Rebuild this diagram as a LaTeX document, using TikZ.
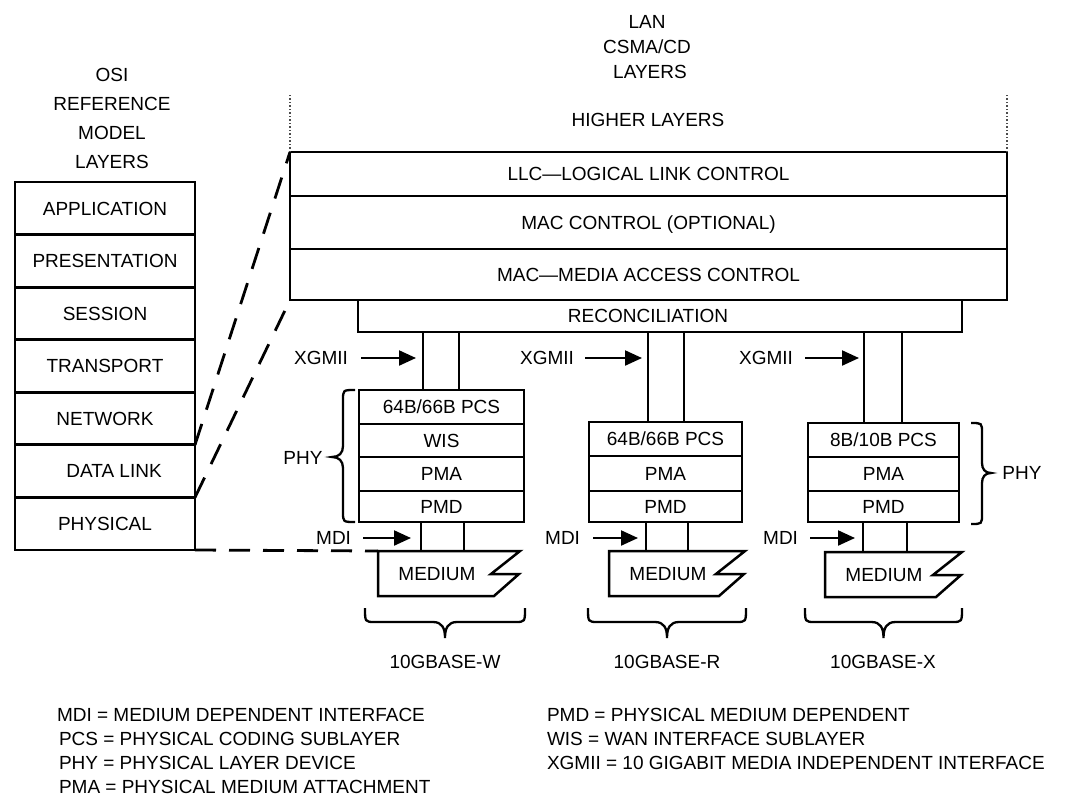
\documentclass[tikz,border=0pt]{standalone}
\usepackage{fontspec}
\setmainfont{Liberation Sans}
\usetikzlibrary{arrows.meta,calc}
\begin{document}
\begin{tikzpicture}[x=1pt,y=-1pt,
  lbl/.style={font=\fontsize{19}{22}\selectfont, inner sep=0pt, outer sep=0pt,
              text height=13.5pt, text depth=0pt},
  box/.style={lbl, draw, line width=2.9pt},
  medline/.style={line width=2.5pt, line join=miter},
  link/.style={line width=2.3pt},
  thinlink/.style={line width=1.6pt},
  arr/.style={line width=2.2pt, -{Triangle[length=17pt,width=15pt]}},
  bracel/.style={line width=2.3pt},
  dashl/.style={line width=2.8pt, dash pattern=on 22pt off 15pt},
  dotl/.style={line width=1.3pt, dash pattern=on 1.5pt off 2pt, black!70},
  pics/medium/.style={code={
    \coordinate (-nw) at (0,0);
    \draw[medline] (0,0) -- (#1,0) -- (#1-29,23) -- (#1-1,23) -- (#1-26,45) -- (0,45) -- cycle;
    \node[lbl] (-txt) at (59,23) {MEDIUM};
  }},
  pics/underbrace/.style={code={
    \draw[bracel] (0,0) .. controls (0,14) and (0,14) .. (10,14)
      -- (#1/2-12,14) .. controls (#1/2-3,14) and (#1/2,20) .. (#1/2,30)
      .. controls (#1/2,20) and (#1/2+3,14) .. (#1/2+12,14)
      -- (#1-10,14) .. controls (#1,14) and (#1,14) .. (#1,0);
  }}
]
\useasboundingbox (0,0) rectangle (1071,798);
\fill[white] (0,0) rectangle (1071,798);

% ---------- OSI reference model ----------
\node[lbl, align=center, text height=, text depth=, font=\fontsize{19}{29}\selectfont]
  (osititle) at (112,118) {OSI\\REFERENCE\\MODEL\\LAYERS};
\node[box, minimum width=180, minimum height=52.57] (osi1) at (105,208.29) {APPLICATION};
\node[box, minimum width=180, minimum height=52.57] (osi2) at (105,260.86) {PRESENTATION};
\node[box, minimum width=180, minimum height=52.57] (osi3) at (105,313.43) {SESSION};
\node[box, minimum width=180, minimum height=52.57] (osi4) at (105,366.00) {TRANSPORT};
\node[box, minimum width=180, minimum height=52.57] (osi5) at (105,418.57) {NETWORK};
\node[box, minimum width=180, minimum height=52.57] (osi6) at (105,471.14) {\hspace*{18pt}DATA LINK};
\node[box, minimum width=180, minimum height=52.57] (osi7) at (105,523.71) {PHYSICAL};

% ---------- LAN CSMA/CD layers ----------
\node[lbl, align=center, text height=, text depth=, font=\fontsize{19}{25}\selectfont]
  (lantitle) at (647,47) {LAN\\CSMA/CD\\\hspace*{6pt}LAYERS};
\node[lbl] (higher) at (648,120) {HIGHER LAYERS};
\node[box, minimum width=717, minimum height=44] (llc)  at (648.5,174)   {LLC—LOGICAL LINK CONTROL};
\node[box, minimum width=717, minimum height=53] (macc) at (648.5,222.5) {MAC CONTROL (OPTIONAL)};
\node[box, minimum width=717, minimum height=51] (mac)  at (648.5,274.5) {MAC—MEDIA ACCESS CONTROL};
\node[box, minimum width=604, minimum height=32] (rec)  at (660,316) {};
\node[lbl] (rectxt) at (648,316) {RECONCILIATION};

\draw[dotl] (llc.north west) -- ++(0,-57);
\draw[dotl] (llc.north east) -- ++(0,-57);

% OSI data link maps onto the LAN stack, physical onto the medium
\draw[dashl] (osi6.north east) -- (llc.north west);
\draw[dashl] (osi6.south east) -- (mac.south west);

% ---------- 10GBASE-W ----------
\node[box, minimum width=165, minimum height=34] (pcsW) at (441.5,407)   {64B/66B PCS};
\node[box, minimum width=165, minimum height=33] (wisW) at (441.5,440.5) {WIS};
\node[box, minimum width=165, minimum height=34] (pmaW) at (441.5,474)   {PMA};
\node[box, minimum width=165, minimum height=31] (pmdW) at (441.5,506.5) {PMD};
\pic (mW) at (378,551) {medium=142};

% ---------- 10GBASE-R ----------
\node[box, minimum width=153, minimum height=34] (pcsR) at (665.5,439)   {64B/66B PCS};
\node[box, minimum width=153, minimum height=35] (pmaR) at (665.5,473.5) {PMA};
\node[box, minimum width=153, minimum height=31] (pmdR) at (665.5,506.5) {PMD};
\pic (mR) at (609,551) {medium=136};

% ---------- 10GBASE-X ----------
\node[box, minimum width=151, minimum height=34] (pcsX) at (883.5,440)   {8B/10B PCS};
\node[box, minimum width=151, minimum height=34] (pmaX) at (883.5,474)   {PMA};
\node[box, minimum width=151, minimum height=31] (pmdX) at (883.5,506.5) {PMD};
\pic (mX) at (825,552) {medium=137};

\draw[dashl, dash pattern=on 21pt off 13pt] (osi7.south east) -- (mW-nw);
\draw[medline] (mW-nw) -- ++(-9,0);

% XGMII paths
\coordinate (gW1) at (423,0);  \coordinate (gW2) at (459,0);
\coordinate (gR1) at (648,0);  \coordinate (gR2) at (684,0);
\coordinate (gX1) at (864,0);  \coordinate (gX2) at (902,0);
\draw[link] (rec.south -| gW1) -- (pcsW.north -| gW1);
\draw[link] (rec.south -| gW2) -- (pcsW.north -| gW2);
\draw[link] (rec.south -| gR1) -- (pcsR.north -| gR1);
\draw[link] (rec.south -| gR2) -- (pcsR.north -| gR2);
\draw[link] (rec.south -| gX1) -- (pcsX.north -| gX1);
\draw[thinlink] (rec.south -| gX2) -- (pcsX.north -| gX2);

% MDI paths
\coordinate (dW1) at (421,0);  \coordinate (dW2) at (464,0);
\coordinate (dR1) at (646,0);  \coordinate (dR2) at (688,0);
\coordinate (dX1) at (863,0);  \coordinate (dX2) at (907,0);
\draw[thinlink] (pmdW.south -| dW1) -- (mW-nw -| dW1);
\draw[thinlink] (pmdW.south -| dW2) -- (mW-nw -| dW2);
\draw[link] (pmdR.south -| dR1) -- (mR-nw -| dR1);
\draw[link] (pmdR.south -| dR2) -- (mR-nw -| dR2);
\draw[link] (pmdX.south -| dX1) -- (mX-nw -| dX1);
\draw[link] (pmdX.south -| dX2) -- (mX-nw -| dX2);

% interface labels and pointers
\node[lbl, anchor=east] (xgW) at (348,358) {XGMII};
\node[lbl, anchor=east] (xgR) at (574,358) {XGMII};
\node[lbl, anchor=east] (xgX) at (793,358) {XGMII};
\draw[arr, shorten <=13pt, shorten >=7pt] (xgW.east) -- (xgW.east -| gW1);
\draw[arr, shorten <=11pt, shorten >=6pt] (xgR.east) -- (xgR.east -| gR1);
\draw[arr, shorten <=12pt, shorten >=5pt] (xgX.east) -- (xgX.east -| gX1);

\node[lbl, anchor=east] (mdW) at (351,538) {MDI};
\node[lbl, anchor=east] (mdR) at (580,538) {MDI};
\node[lbl, anchor=east] (mdX) at (798,538) {MDI};
\draw[arr, shorten <=12pt, shorten >=10pt] (mdW.east) -- (mdW.east -| dW1);
\draw[arr, shorten <=13pt, shorten >=8pt] (mdR.east) -- (mdR.east -| dR1);
\draw[arr, shorten <=12pt, shorten >=8pt] (mdX.east) -- (mdX.east -| dX1);

% PHY braces
\draw[bracel] (355,390) .. controls (343,390) and (343,390) .. (343,400) -- (343,446)
  .. controls (343,453) and (339,457) .. (332,457)
  .. controls (339,457) and (343,461) .. (343,468) -- (343,512)
  .. controls (343,522) and (343,522) .. (355,522);
\node[lbl] (phyW) at (303,458) {PHY};
\draw[bracel] (971,423) .. controls (982,423) and (982,423) .. (982,433) -- (982,463)
  .. controls (982,469) and (985,473) .. (991,473)
  .. controls (985,473) and (982,477) .. (982,483) -- (982,514)
  .. controls (982,524) and (982,524) .. (971,524);
\node[lbl] (phyX) at (1022,473) {PHY};

% port type braces
\pic at (365,608) {underbrace=160};
\pic at (588,608) {underbrace=158};
\pic at (805,608) {underbrace=157};
\node[lbl] (tW) at (445,662) {10GBASE-W};
\node[lbl] (tR) at (667,662) {10GBASE-R};
\node[lbl] (tX) at (883,662) {10GBASE-X};

% abbreviations
\node[lbl, anchor=west] at (57,715) {MDI = MEDIUM DEPENDENT INTERFACE};
\node[lbl, anchor=west] at (59,739) {PCS = PHYSICAL CODING SUBLAYER};
\node[lbl, anchor=west] at (59,763) {PHY = PHYSICAL LAYER DEVICE};
\node[lbl, anchor=west] at (59,787) {PMA = PHYSICAL MEDIUM ATTACHMENT};
\node[lbl, anchor=west] at (547,715) {PMD = PHYSICAL MEDIUM DEPENDENT};
\node[lbl, anchor=west] at (547,739) {WIS = WAN INTERFACE SUBLAYER};
\node[lbl, anchor=west] at (547,763) {XGMII = 10 GIGABIT MEDIA INDEPENDENT INTERFACE};
\end{tikzpicture}
\end{document}
